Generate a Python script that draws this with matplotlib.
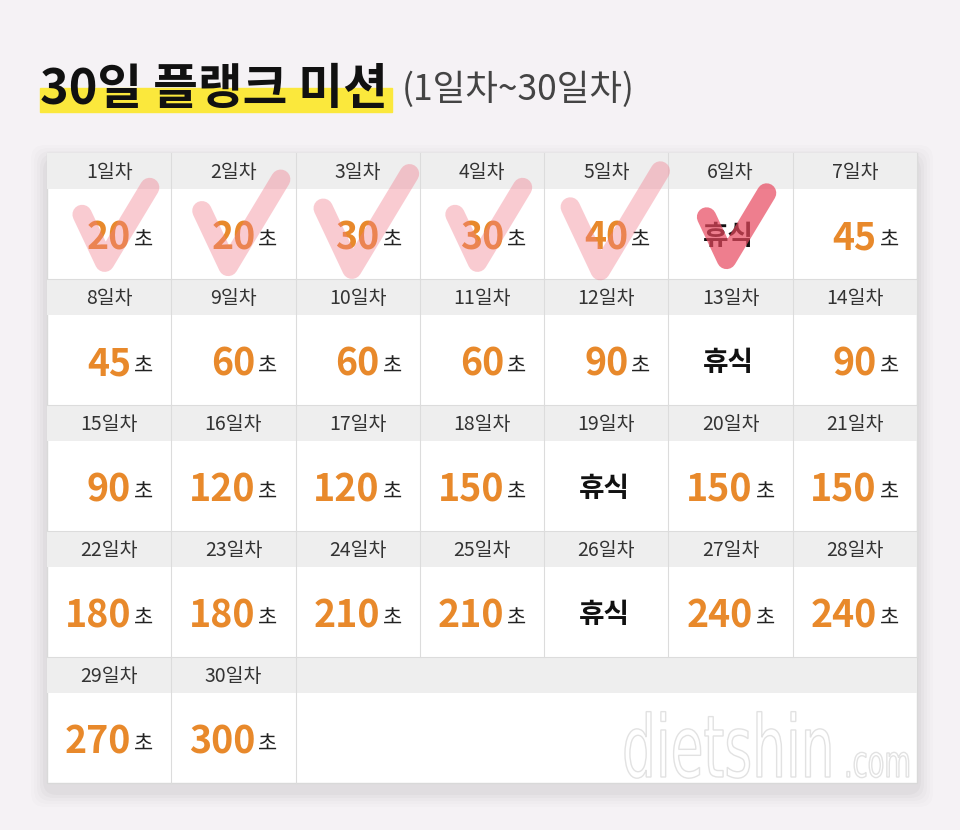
"""30일 플랭크 미션 calendar table."""

import matplotlib.pyplot as plt
from matplotlib.patches import Rectangle, FancyBboxPatch, PathPatch
from matplotlib.textpath import TextPath
from matplotlib.font_manager import FontProperties
from matplotlib.transforms import Affine2D

plt.rcParams["font.family"] = ["Noto Sans CJK KR", "DejaVu Sans"]

# ---- data ----
days = list(range(1, 31))
seconds = [20, 20, 30, 30, 40, None, 45,
           45, 60, 60, 60, 90, None, 90,
           90, 120, 120, 150, None, 150, 150,
           180, 180, 210, 210, None, 240, 240,
           270, 300]
checked_days = [1, 2, 3, 4, 5, 6]
# per-day size of the hand-drawn check mark
check_scale = [0.9, 1.05, 1.15, 0.9, 1.2, 0.8]

title = "30일 플랭크 미션"
subtitle = "(1일차~30일차)"
rest_label = "휴식"
unit = "초"
watermark = "dietshin"
watermark_tail = ".com"

# ---- layout (pixels) ----
W, H = 960, 830
left, top = 47, 153
table_w = 870
ncols = 7
col_w = table_w / ncols
row_h = 126
head_h = 36
nrows = 5
bottom = 783

bg = "#f5f2f5"
head_bg = "#eeeeee"
line_c = "#dcdcdc"
orange = "#e8892b"
dark = "#222222"

fig = plt.figure(figsize=(W / 100, H / 100), dpi=100)
fig.patch.set_facecolor(bg)
ax = fig.add_axes([0, 0, 1, 1])
ax.set_xlim(0, W)
ax.set_ylim(H, 0)
ax.axis("off")

# title with yellow highlight
ax.add_patch(Rectangle((40, 88), 352, 24, color="#fbe83c", zorder=1))
ax.text(40, 104, title, fontsize=35, fontweight="bold", color="#111111",
        va="baseline", ha="left", zorder=2)
ax.text(402, 100, subtitle, fontsize=25.5, fontweight="light", color="#444444",
        va="baseline", ha="left", zorder=2)

# soft shadow, mostly below the table
for i, a in enumerate([0.010, 0.013, 0.016, 0.019, 0.022]):
    pad = 16 - i * 3
    ax.add_patch(FancyBboxPatch((left - pad, top - pad + 8),
                                table_w + 2 * pad, bottom - top + 2 * pad,
                                boxstyle="round,pad=0,rounding_size=14",
                                facecolor="#000000", edgecolor="none",
                                alpha=a, zorder=2))

# table body
ax.add_patch(Rectangle((left, top), table_w, bottom - top, facecolor="white",
                       edgecolor="#d9d9d9", linewidth=1, zorder=3))
for r in range(nrows):
    y0 = top + r * row_h
    ax.add_patch(Rectangle((left, y0), table_w, head_h, facecolor=head_bg,
                           edgecolor="none", zorder=3))
    if r > 0:
        ax.plot([left, left + table_w], [y0, y0], color=line_c, lw=0.8, zorder=4)

for k, (d, s) in enumerate(zip(days, seconds)):
    r, c = divmod(k, ncols)
    x0 = left + c * col_w
    y0 = top + r * row_h
    cx = x0 + col_w / 2
    # right-hand cell border
    y1 = bottom if r == nrows - 1 else y0 + row_h
    ax.plot([x0 + col_w, x0 + col_w], [y0, y1], color=line_c, lw=0.8, zorder=4)
    ax.text(cx, y0 + 19, f"{d}일차", fontsize=14, color="#333333",
            ha="center", va="center", zorder=5)
    vy = y0 + 84
    if s is None:
        ax.text(cx - 2, vy, rest_label, fontsize=20, fontweight="bold",
                color="#111111", ha="center", va="center", zorder=5)
    else:
        ax.text(cx + 22, vy + 12, str(s), fontsize=27, fontweight="heavy",
                color=orange, ha="right", va="baseline", zorder=5)
        ax.text(cx + 25, vy + 10, unit, fontsize=15, color=dark,
                ha="left", va="baseline", zorder=5)

# check marks over finished days
for d, sc in zip(checked_days, check_scale):
    r, c = divmod(d - 1, ncols)
    cx = left + c * col_w + col_w / 2
    vy = top + r * row_h + 84
    xs = [cx - 30 * sc, cx - 5 * sc, cx + 45 * sc]
    ys = [vy - 25 * sc, vy + 28 * sc, vy - 55 * sc]
    strong = d == checked_days[-1]
    ax.plot(xs, ys, color="#e8485e" if strong else "#f27d8e",
            alpha=0.7 if strong else 0.4, lw=14, solid_capstyle="round",
            solid_joinstyle="round", zorder=6)

# condensed watermark, squeezed horizontally
fp = FontProperties(family="DejaVu Sans")
for txt, x, size, sx in [(watermark, 622, 86, 0.62), (watermark_tail, 844, 44, 0.62)]:
    path = TextPath((0, 0), txt, size=size, prop=fp)
    path = Affine2D().scale(sx, -1.0).translate(x, 777).transform_path(path)
    ax.add_patch(PathPatch(path, facecolor="white", edgecolor="#e2e2e2",
                           lw=1.0, zorder=7))

fig.savefig("out.png", dpi=100, facecolor=bg)
plt.close(fig)
